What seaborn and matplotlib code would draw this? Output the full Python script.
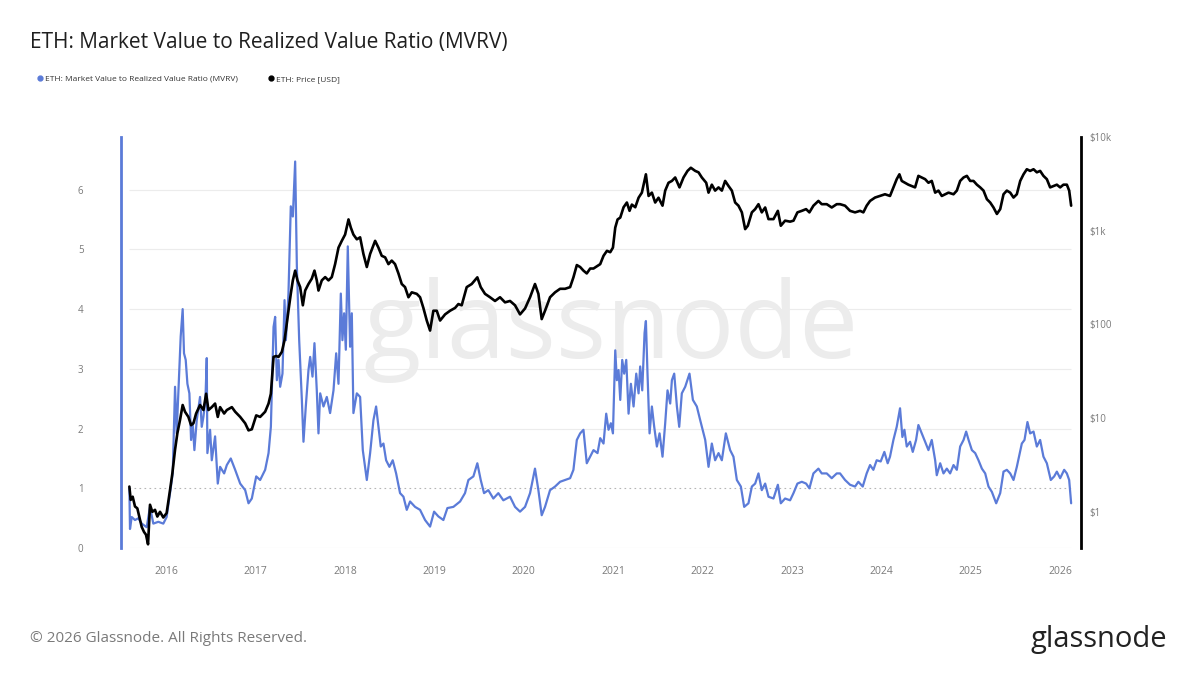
import pandas as pd
import matplotlib
matplotlib.use('Agg')
import matplotlib.pyplot as plt
import matplotlib.dates as mdates
from matplotlib.lines import Line2D
import seaborn as sns

# MVRV ratio (left axis); dates as decimal years
mvrv_years = [
    2015.590, 2015.597, 2015.616, 2015.653, 2015.691, 2015.728, 2015.784, 2015.821, 2015.858, 2015.914,
    2015.970, 2016.007, 2016.045, 2016.075, 2016.101, 2016.119, 2016.138, 2016.164, 2016.186, 2016.201,
    2016.220, 2016.239, 2016.261, 2016.280, 2016.298, 2016.317, 2016.343, 2016.380, 2016.399, 2016.418,
    2016.440, 2016.455, 2016.462, 2016.492, 2016.511, 2016.548, 2016.578, 2016.604, 2016.649, 2016.679,
    2016.723, 2016.772, 2016.828, 2016.884, 2016.921, 2016.958, 2017.007, 2017.051, 2017.107, 2017.145,
    2017.171, 2017.201, 2017.219, 2017.238, 2017.257, 2017.275, 2017.301, 2017.324, 2017.339, 2017.368,
    2017.394, 2017.417, 2017.443, 2017.462, 2017.488, 2017.518, 2017.536, 2017.562, 2017.592, 2017.611,
    2017.637, 2017.659, 2017.685, 2017.704, 2017.723, 2017.760, 2017.797, 2017.834, 2017.872, 2017.902,
    2017.928, 2017.954, 2017.972, 2017.991, 2018.010, 2018.032, 2018.058, 2018.077, 2018.095, 2018.133,
    2018.170, 2018.200, 2018.245, 2018.282, 2018.319, 2018.349, 2018.375, 2018.401, 2018.431, 2018.461,
    2018.498, 2018.535, 2018.573, 2018.617, 2018.655, 2018.692, 2018.729, 2018.785, 2018.841, 2018.897,
    2018.953, 2018.998, 2019.046, 2019.102, 2019.147, 2019.214, 2019.289, 2019.344, 2019.382, 2019.438,
    2019.482, 2019.520, 2019.557, 2019.605, 2019.661, 2019.717, 2019.773, 2019.848, 2019.904, 2019.960,
    2020.016, 2020.072, 2020.127, 2020.165, 2020.202, 2020.239, 2020.295, 2020.351, 2020.407, 2020.463,
    2020.519, 2020.556, 2020.594, 2020.631, 2020.668, 2020.705, 2020.743, 2020.780, 2020.825, 2020.855,
    2020.892, 2020.922, 2020.948, 2020.974, 2020.997, 2021.023, 2021.041, 2021.060, 2021.079, 2021.101,
    2021.123, 2021.146, 2021.172, 2021.198, 2021.228, 2021.258, 2021.284, 2021.302, 2021.325, 2021.351,
    2021.366, 2021.384, 2021.407, 2021.433, 2021.459, 2021.489, 2021.519, 2021.552, 2021.582, 2021.608,
    2021.638, 2021.657, 2021.683, 2021.713, 2021.739, 2021.768, 2021.806, 2021.854, 2021.892, 2021.936,
    2021.974, 2022.030, 2022.067, 2022.104, 2022.141, 2022.179, 2022.216, 2022.261, 2022.309, 2022.346,
    2022.384, 2022.429, 2022.466, 2022.514, 2022.552, 2022.589, 2022.626, 2022.663, 2022.701, 2022.738,
    2022.794, 2022.843, 2022.876, 2022.924, 2022.980, 2023.018, 2023.062, 2023.111, 2023.159, 2023.196,
    2023.241, 2023.297, 2023.334, 2023.390, 2023.446, 2023.502, 2023.539, 2023.595, 2023.651, 2023.707,
    2023.744, 2023.793, 2023.837, 2023.875, 2023.912, 2023.949, 2023.994, 2024.035, 2024.072, 2024.098,
    2024.136, 2024.173, 2024.210, 2024.236, 2024.259, 2024.285, 2024.322, 2024.352, 2024.389, 2024.415,
    2024.453, 2024.490, 2024.527, 2024.564, 2024.602, 2024.620, 2024.658, 2024.695, 2024.732, 2024.769,
    2024.807, 2024.844, 2024.881, 2024.919, 2024.948, 2024.975, 2025.012, 2025.049, 2025.086, 2025.124,
    2025.161, 2025.198, 2025.236, 2025.284, 2025.329, 2025.366, 2025.403, 2025.441, 2025.478, 2025.515,
    2025.571, 2025.601, 2025.634, 2025.664, 2025.702, 2025.739, 2025.776, 2025.813, 2025.851, 2025.895,
    2025.933, 2025.963, 2026.000, 2026.045, 2026.075, 2026.101, 2026.123,
]
mvrv_values = [
    1.00, 0.32, 0.52, 0.47, 0.50, 0.41, 0.35, 0.69, 0.41, 0.44,
    0.41, 0.52, 0.92, 1.25, 2.70, 1.92, 2.59, 3.54, 4.00, 3.26,
    3.15, 2.75, 2.59, 1.81, 2.09, 1.64, 2.14, 2.53, 2.03, 2.20,
    2.48, 3.18, 1.59, 1.98, 1.47, 1.87, 1.08, 1.36, 1.25, 1.39,
    1.50, 1.31, 1.08, 0.97, 0.75, 0.83, 1.20, 1.14, 1.31, 1.59,
    2.03, 3.70, 3.87, 2.81, 3.15, 2.70, 2.92, 4.15, 3.48, 4.26,
    5.72, 5.55, 6.47, 4.71, 3.48, 2.48, 1.78, 2.37, 2.98, 3.20,
    2.87, 3.43, 2.64, 1.92, 2.59, 2.37, 2.53, 2.26, 2.64, 3.26,
    2.75, 4.26, 3.48, 3.93, 3.32, 5.05, 3.37, 3.93, 2.26, 2.59,
    2.53, 1.64, 1.14, 1.59, 2.14, 2.37, 2.03, 1.70, 1.75, 1.47,
    1.36, 1.47, 1.25, 0.92, 0.86, 0.64, 0.78, 0.69, 0.64, 0.47,
    0.36, 0.61, 0.53, 0.47, 0.67, 0.69, 0.78, 0.92, 1.14, 1.20,
    1.42, 1.14, 0.92, 0.97, 0.83, 0.92, 0.80, 0.86, 0.69, 0.61,
    0.69, 0.92, 1.33, 0.97, 0.55, 0.69, 0.97, 1.03, 1.11, 1.14,
    1.17, 1.31, 1.81, 1.92, 1.98, 1.42, 1.53, 1.64, 1.59, 1.84,
    1.75, 2.25, 1.98, 2.09, 1.92, 3.31, 2.81, 2.98, 2.48, 3.15,
    2.92, 3.15, 2.25, 2.75, 2.37, 2.92, 2.59, 3.04, 2.64, 3.60,
    3.80, 2.92, 1.92, 2.37, 2.03, 1.70, 1.92, 1.53, 2.09, 2.64,
    2.42, 2.81, 2.92, 2.37, 2.03, 2.59, 2.70, 2.92, 2.48, 2.37,
    2.14, 1.81, 1.36, 1.75, 1.47, 1.59, 1.47, 1.92, 1.64, 1.53,
    1.14, 1.03, 0.69, 0.75, 1.03, 1.08, 1.25, 0.97, 1.08, 0.86,
    0.83, 1.06, 0.75, 0.83, 0.80, 0.92, 1.08, 1.11, 1.08, 1.00,
    1.25, 1.33, 1.25, 1.25, 1.17, 1.25, 1.25, 1.14, 1.06, 1.03,
    1.11, 1.03, 1.25, 1.39, 1.31, 1.47, 1.45, 1.61, 1.42, 1.53,
    1.81, 2.03, 2.34, 1.86, 1.98, 1.70, 1.78, 1.61, 1.81, 2.06,
    1.92, 1.78, 1.64, 1.81, 1.47, 1.22, 1.42, 1.25, 1.33, 1.25,
    1.39, 1.31, 1.70, 1.81, 1.95, 1.81, 1.64, 1.59, 1.47, 1.33,
    1.25, 1.03, 0.94, 0.75, 0.92, 1.28, 1.31, 1.25, 1.14, 1.36,
    1.75, 1.81, 2.11, 1.92, 1.95, 1.70, 1.81, 1.53, 1.42, 1.14,
    1.20, 1.28, 1.17, 1.31, 1.25, 1.14, 0.75,
]

# ETH price in USD (right axis, log scale)
price_years = [
    2015.590, 2015.605, 2015.627, 2015.653, 2015.679, 2015.701, 2015.728, 2015.754, 2015.776, 2015.799,
    2015.821, 2015.847, 2015.877, 2015.903, 2015.933, 2015.970, 2016.007, 2016.045, 2016.071, 2016.101,
    2016.127, 2016.157, 2016.186, 2016.212, 2016.250, 2016.280, 2016.306, 2016.336, 2016.380, 2016.418,
    2016.448, 2016.474, 2016.511, 2016.548, 2016.578, 2016.604, 2016.649, 2016.679, 2016.735, 2016.772,
    2016.828, 2016.884, 2016.921, 2016.958, 2017.007, 2017.051, 2017.107, 2017.145, 2017.171, 2017.201,
    2017.230, 2017.257, 2017.294, 2017.324, 2017.339, 2017.368, 2017.394, 2017.417, 2017.443, 2017.469,
    2017.499, 2017.529, 2017.555, 2017.592, 2017.629, 2017.659, 2017.685, 2017.704, 2017.741, 2017.779,
    2017.816, 2017.853, 2017.890, 2017.928, 2017.965, 2018.002, 2018.040, 2018.066, 2018.095, 2018.133,
    2018.170, 2018.207, 2018.245, 2018.282, 2018.338, 2018.375, 2018.412, 2018.450, 2018.487, 2018.524,
    2018.561, 2018.599, 2018.636, 2018.673, 2018.711, 2018.748, 2018.804, 2018.841, 2018.878, 2018.916,
    2018.953, 2018.990, 2019.028, 2019.065, 2019.121, 2019.177, 2019.233, 2019.270, 2019.307, 2019.363,
    2019.419, 2019.482, 2019.520, 2019.568, 2019.624, 2019.680, 2019.736, 2019.792, 2019.848, 2019.904,
    2019.960, 2020.016, 2020.072, 2020.127, 2020.165, 2020.202, 2020.239, 2020.295, 2020.351, 2020.407,
    2020.463, 2020.519, 2020.556, 2020.594, 2020.631, 2020.668, 2020.705, 2020.743, 2020.780, 2020.855,
    2020.892, 2020.930, 2020.967, 2020.997, 2021.023, 2021.049, 2021.079, 2021.116, 2021.153, 2021.183,
    2021.209, 2021.247, 2021.284, 2021.321, 2021.366, 2021.396, 2021.433, 2021.470, 2021.507, 2021.552,
    2021.582, 2021.619, 2021.657, 2021.694, 2021.742, 2021.787, 2021.832, 2021.869, 2021.918, 2021.955,
    2021.992, 2022.041, 2022.067, 2022.104, 2022.141, 2022.179, 2022.216, 2022.253, 2022.291, 2022.328,
    2022.365, 2022.402, 2022.440, 2022.477, 2022.507, 2022.552, 2022.589, 2022.626, 2022.663, 2022.701,
    2022.738, 2022.794, 2022.843, 2022.876, 2022.924, 2022.980, 2023.018, 2023.062, 2023.111, 2023.159,
    2023.196, 2023.241, 2023.297, 2023.334, 2023.390, 2023.446, 2023.502, 2023.539, 2023.595, 2023.651,
    2023.707, 2023.763, 2023.800, 2023.837, 2023.875, 2023.931, 2023.986, 2024.042, 2024.098, 2024.136,
    2024.173, 2024.203, 2024.229, 2024.266, 2024.303, 2024.341, 2024.378, 2024.415, 2024.453, 2024.490,
    2024.527, 2024.564, 2024.602, 2024.639, 2024.676, 2024.714, 2024.751, 2024.807, 2024.844, 2024.881,
    2024.919, 2024.956, 2024.993, 2025.030, 2025.068, 2025.105, 2025.142, 2025.180, 2025.217, 2025.254,
    2025.292, 2025.329, 2025.366, 2025.403, 2025.441, 2025.478, 2025.515, 2025.553, 2025.590, 2025.627,
    2025.664, 2025.702, 2025.739, 2025.776, 2025.813, 2025.851, 2025.888, 2025.925, 2025.963, 2026.000,
    2026.037, 2026.075, 2026.101, 2026.123,
]
price_values = [
    1.86, 1.34, 1.45, 1.14, 1.09, 0.89, 0.69, 0.61, 0.57, 0.45,
    1.19, 1.00, 1.05, 0.89, 1.00, 0.87, 0.97, 1.71, 2.57, 4.6,
    6.9, 9.6, 13.8, 11.7, 10.3, 8.4, 8.8, 11.2, 13.8, 12.2,
    18.2, 12.2, 13.1, 14.3, 10.3, 13.1, 11.2, 12.2, 13.1, 11.7,
    10.3, 8.8, 7.4, 7.6, 10.7, 10.3, 11.7, 14.3, 18.2, 45,
    46, 45, 51, 68, 86, 140, 212, 295, 375, 295,
    250, 160, 230, 270, 308, 375, 295, 230, 295, 320,
    295, 320, 440, 660, 780, 910, 1320, 1080, 910, 810,
    850, 565, 410, 565, 780, 660, 540, 520, 440, 480,
    440, 350, 270, 250, 195, 220, 212, 195, 150, 110,
    86, 140, 140, 110, 128, 140, 150, 165, 160, 250,
    270, 318, 250, 212, 195, 178, 195, 172, 178, 160,
    128, 148, 195, 270, 212, 114, 140, 195, 220, 240,
    240, 250, 318, 430, 410, 375, 350, 395, 395, 440,
    540, 610, 590, 660, 1080, 1320, 1380, 1780, 2000, 1630,
    1900, 1780, 2250, 2550, 4000, 2350, 2550, 2000, 2250, 1850,
    2680, 3250, 3400, 3700, 2900, 3700, 4350, 4700, 4350, 4200,
    3700, 3250, 2550, 3100, 2680, 2900, 2680, 3400, 3000, 2680,
    2000, 1850, 1570, 1040, 1130, 1570, 1700, 1920, 1570, 1770,
    1330, 1330, 1630, 1130, 1280, 1250, 1280, 1570, 1630, 1700,
    1570, 1850, 2080, 1920, 1920, 1770, 1920, 1920, 1850, 1630,
    1570, 1630, 1570, 1850, 2080, 2260, 2350, 2450, 2350, 2900,
    3550, 4000, 3400, 3250, 3100, 3000, 2900, 3850, 3700, 3550,
    3250, 3400, 2550, 2680, 2350, 2450, 2550, 2450, 2680, 3400,
    3700, 3850, 3400, 3400, 3100, 2900, 2680, 2170, 2000, 1770,
    1510, 1700, 2450, 2680, 2550, 2260, 2450, 3400, 4000, 4530,
    4350, 4530, 4200, 4350, 3850, 3550, 2900, 3000, 3100, 2900,
    3100, 3100, 2680, 1850,
]

left_ticks = [0, 1, 2, 3, 4, 5, 6]
price_ticks = [1, 10, 100, 1000, 10000]
price_tick_labels = ['$1', '$10', '$100', '$1k', '$10k']


def year_to_date(y):
    yr = int(y)
    start = pd.Timestamp(yr, 1, 1)
    return start + (pd.Timestamp(yr + 1, 1, 1) - start) * (y - yr)


mvrv_df = pd.DataFrame({'date': [year_to_date(y) for y in mvrv_years], 'mvrv': mvrv_values})
price_df = pd.DataFrame({'date': [year_to_date(y) for y in price_years], 'price': price_values})

BLUE = '#5b7bd8'
GRID = '#ececec'
TICK = '#7a7a7a'

sns.set_style('white')
plt.rcParams['font.family'] = ['Open Sans', 'DejaVu Sans']

fig = plt.figure(figsize=(12, 6.75), dpi=100)
ax = fig.add_axes([0.1008, 0.188, 0.80, 0.609])
ax2 = ax.twinx()

# watermark behind everything
ax.text(0.51, 0.53, 'glassnode', transform=ax.transAxes, ha='center', va='center',
        fontsize=76, color='#ececec', fontweight='medium', zorder=0)

start, end = mvrv_df['date'].iloc[0], mvrv_df['date'].iloc[-1]
for t in left_ticks:
    if t == 1:
        ax.hlines(t, start, end, colors='#b5b5b5', linestyles=(0, (1.5, 3)), linewidth=0.8, zorder=1)
    else:
        ax.hlines(t, start, end, colors=GRID, linewidth=0.8, zorder=1)

sns.lineplot(data=mvrv_df, x='date', y='mvrv', ax=ax, color=BLUE, linewidth=1.6, zorder=3)
sns.lineplot(data=price_df, x='date', y='price', ax=ax2, color='black', linewidth=1.9, zorder=3)

ax.set_xlim(pd.Timestamp('2015-07-01'), pd.Timestamp('2026-03-27'))
ax.set_ylim(0, 6.88)
ax2.set_yscale('log')
ax2.set_ylim(0.41, 10000)

ax.set_yticks(left_ticks)
ax.set_yticklabels([str(t) for t in left_ticks])
ax2.set_yticks(price_ticks)
ax2.set_yticklabels(price_tick_labels)
ax2.yaxis.set_minor_locator(matplotlib.ticker.NullLocator())

ax.xaxis.set_major_locator(mdates.YearLocator())
ax.xaxis.set_major_formatter(mdates.DateFormatter('%Y'))

for a in (ax, ax2):
    a.set_xlabel('')
    a.set_ylabel('')
    for s in ('top', 'bottom'):
        a.spines[s].set_visible(False)
ax.spines['right'].set_visible(False)
ax2.spines['left'].set_visible(False)
ax.spines['left'].set_color(BLUE)
ax.spines['left'].set_linewidth(2)
ax2.spines['right'].set_color('black')
ax2.spines['right'].set_linewidth(2)

ax.tick_params(axis='y', length=0, pad=27, labelsize=7, labelcolor=TICK)
ax.tick_params(axis='x', length=4, width=0.8, color='#dddddd', pad=9, labelsize=7.5, labelcolor=TICK)
ax2.tick_params(axis='y', length=0, pad=6, labelsize=7, labelcolor=TICK)
for lbl in ax2.get_yticklabels():
    lbl.set_horizontalalignment('left')

fig.text(0.025, 0.937, 'ETH: Market Value to Realized Value Ratio (MVRV)', fontsize=15,
         color='#1f1f1f', va='center', ha='left')

handles = [
    Line2D([], [], marker='o', linestyle='', markersize=3.5, color=BLUE),
    Line2D([], [], marker='o', linestyle='', markersize=3.5, color='black'),
]
fig.legend(handles, ['ETH: Market Value to Realized Value Ratio (MVRV)', 'ETH: Price [USD]'],
           loc='center left', bbox_to_anchor=(0.024, 0.883), ncol=2, frameon=False,
           fontsize=6, handletextpad=0.1, columnspacing=3.4, handlelength=1.0, labelcolor='#333333')

fig.text(0.025, 0.054, '\u00a9 2026 Glassnode. All Rights Reserved.', fontsize=11,
         color='#7a7a7a', va='center', ha='left')
fig.text(0.973, 0.052, 'glassnode', fontsize=21, color='#222222', va='center', ha='right')

fig.savefig('out.png', dpi=100, facecolor='white')
